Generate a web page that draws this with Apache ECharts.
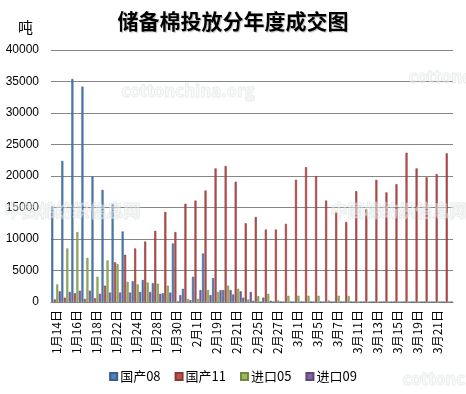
<!DOCTYPE html>
<html><head><meta charset="utf-8">
<script src="https://cdn.jsdelivr.net/npm/echarts@6/dist/echarts.min.js"></script>
<style>html,body{margin:0;padding:0;background:#fff}#c{width:466px;height:394px}</style>
</head><body><div id="c"></div>
<script>
const categories = ['1月14日','1月15日','1月16日','1月17日','1月18日','1月21日','1月22日','1月23日','1月24日','1月25日',
  '1月28日','1月29日','1月30日','1月31日','2月1日','2月18日','2月19日','2月20日','2月21日','2月22日',
  '2月25日','2月26日','2月27日','2月28日','3月1日','3月4日','3月5日','3月6日','3月7日','3月8日',
  '3月11日','3月12日','3月13日','3月14日','3月15日','3月18日','3月19日','3月20日','3月21日','3月22日'];
const guochan08 = [15200,22400,35400,34200,19900,17800,15600,11200,3300,3500,
  3000,1400,9300,2100,4000,7700,3800,1900,1200,700,
  200,700,0,0,0,0,0,0,0,0, 0,0,0,0,0,0,0,0,0,0];
const guochan11 = [400,700,1400,500,600,2600,6300,7500,8500,9600,
  11300,14300,11100,15600,16100,17700,21200,21600,19100,12500,
  13500,11500,11500,12400,19400,21400,20000,16100,14300,12700,
  17600,14700,19400,17400,18700,23700,21200,19800,20300,23600];
const jinkou05 = [2800,8500,11100,7000,4000,6600,6000,3200,2800,3100,
  2900,2600,150,500,500,1900,1600,2600,2100,400,
  950,1300,250,1000,1000,1000,1000,250,1000,950,
  0,0,0,0,0,0,0,0,0,0];
const jinkou09 = [1700,1600,1800,1800,1300,1500,1500,1500,1600,1600,
  1300,1500,1100,300,1900,1100,1900,1900,1700,1600,
  0,200,0,0,0,0,0,0,0,0, 0,0,0,0,0,0,0,0,0,0];
const seriesNames = ['国产08','国产11','进口05','进口09'];
const yTicks = [0,5000,10000,15000,20000,25000,30000,35000,40000];

const colors = ['#4F81BD','#C0504D','#9BBB59','#8064A2'];
const borders = ['#385D8A','#8C3836','#71893F','#5C4776'];
const dataSets = [guochan08, guochan11, jinkou05, jinkou09];

const chart = echarts.init(document.getElementById('c'));
const wmStyle = (x,y,t,size)=>({type:'text', left:x, top:y, z:100, silent:true,
  style:{text:t, fill:'rgba(245,247,247,0.45)', stroke:'rgba(200,208,208,0.45)', lineWidth:1,
  font:'bold '+size+'px "Noto Sans CJK SC", sans-serif'}});
chart.setOption({
  animation:false,
  backgroundColor:'#ffffff',
  title:{text:'储备棉投放分年度成交图', left:'center', top:6,
    textStyle:{fontFamily:'"Noto Sans CJK SC", sans-serif', fontSize:21, fontWeight:'bold', color:'#000',
      textShadowColor:'rgba(0,0,0,0.25)', textShadowOffsetX:1, textShadowOffsetY:1, textShadowBlur:1}},
  graphic:[
    {type:'text', left:18, top:20, style:{text:'吨', fill:'#000', font:'15px "Noto Sans CJK SC", sans-serif'}},
    wmStyle(121,82,'cottonchina.org',17),
    wmStyle(408,68,'cottonc',17),
    wmStyle(4,202,'中国棉纺织信息网',17),
    wmStyle(330,202,'中国棉纺织信息网',17),
    wmStyle(402,370,'cottonchina.org',17)
  ],
  grid:{left:51, right:13, top:50, bottom:92, containLabel:false},
  legend:{data:seriesNames, bottom:6, left:'center', icon:'rect', itemWidth:7, itemHeight:7, itemGap:14,
    textStyle:{fontFamily:'"Noto Sans CJK SC", sans-serif', fontSize:13, color:'#000', padding:[0,0,0,-2]}},
  xAxis:{type:'category', data:categories, boundaryGap:true,
    axisLine:{lineStyle:{color:'#868686'}}, axisTick:{show:false},
    axisLabel:{interval:1, rotate:90, color:'#000', fontSize:12, margin:8,
      fontFamily:'"Noto Sans CJK SC", sans-serif'}},
  yAxis:{type:'value', min:yTicks[0], max:yTicks[yTicks.length-1], interval:yTicks[1]-yTicks[0],
    axisLine:{show:false}, axisTick:{show:false},
    splitLine:{lineStyle:{color:'#868686', width:1}},
    axisLabel:{color:'#000', fontSize:12, margin:12, formatter:v=>String(v),
      fontFamily:'"Liberation Sans", Arial, sans-serif'}},
  series: seriesNames.map((n,i)=>({name:n, type:'bar', data:dataSets[i],
    barCategoryGap:'5%', barGap:'20%',
    itemStyle:{color:colors[i], borderColor:borders[i], borderWidth:0.6}}))
});
</script></body></html>
